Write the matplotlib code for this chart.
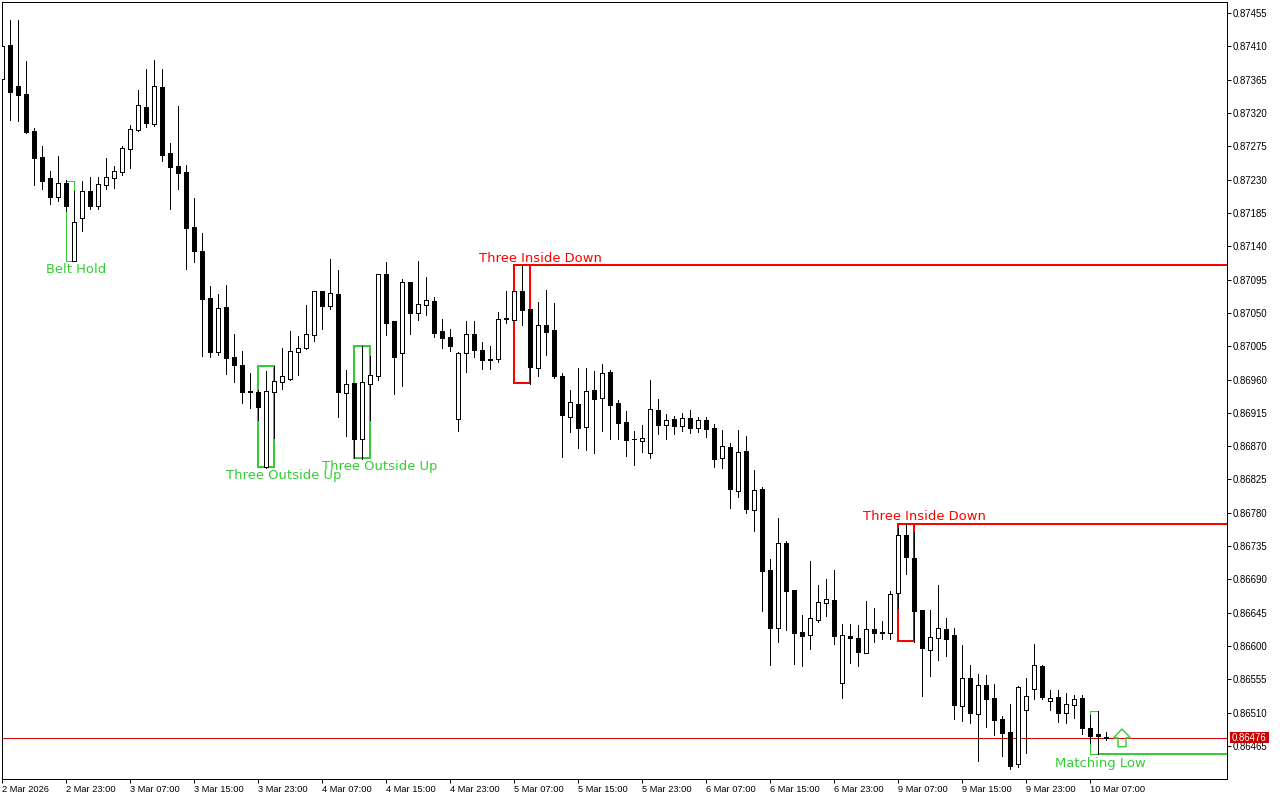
import numpy as np
import matplotlib
matplotlib.use("Agg")
import matplotlib.pyplot as plt
from matplotlib.patches import Polygon, Rectangle

# All prices below are in points (1 point = 0.00001)
opens = [87366,87412,87356,87346,87296,87261,87232,87207,87225,87120,
         87178,87215,87194,87223,87232,87240,87271,87297,87328,87305,
         87355,87266,87248,87240,87166,87134,87070,86997,87058,86990,
         86980,86944,86943,86842,86943,86957,86961,86997,87003,87020,
         87080,87059,87075,86942,86955,86880,86954,86965,87102,87039,
         86996,87092,87050,87061,87066,87026,87017,86907,86996,87021,
         87000,86988,86988,87043,87040,87080,87055,86976,87034,87027,
         86965,86909,86927,86896,86946,86935,86970,86928,86903,86880,
         86877,86861,86919,86899,86907,86897,86908,86894,86905,86894,
         86854,86869,86809,86864,86784,86812,86703,86624,86739,86676,
         86619,86615,86635,86658,86662,86550,86614,86611,86591,86623,
         86619,86618,86672,86750,86719,86649,86595,86611,86623,86615,
         86519,86557,86508,86547,86530,86501,86484,86441,86514,86542,
         86573,86526,86531,86510,86520,86530,86489,86481,86477]
highs = [87413,87446,87446,87390,87300,87275,87242,87262,87229,87215,
         87228,87234,87234,87259,87248,87275,87304,87351,87379,87392,
         87379,87279,87329,87250,87205,87158,87086,87075,87088,87021,
         86999,86969,86946,86971,86978,87003,87026,87019,87061,87080,
         87080,87123,87108,86973,86955,87005,86992,87102,87119,87039,
         87096,87092,87120,87099,87071,87042,87028,86997,87039,87039,
         87011,87005,87051,87080,87080,87115,87055,87065,87081,87063,
         86969,86946,86976,86976,86971,86981,86973,86932,86917,86891,
         86899,86959,86934,86913,86911,86915,86919,86909,86909,86900,
         86892,86874,86892,86884,86838,86815,86718,86773,86742,86676,
         86642,86715,86682,86691,86703,86630,86630,86628,86661,86651,
         86634,86674,86760,86765,86754,86649,86649,86682,86638,86624,
         86602,86574,86562,86561,86549,86506,86522,86546,86557,86603,
         86574,86541,86541,86537,86534,86534,86507,86512,86484]
lows = [87365,87311,87309,87293,87223,87217,87197,87201,87188,87120,
        87161,87190,87190,87217,87219,87236,87246,87296,87301,87302,
        87255,87190,87217,87109,87119,86992,86990,86993,86967,86957,
        86928,86922,86905,86841,86881,86947,86959,86966,87001,87012,
        87028,87055,86909,86884,86854,86853,86905,86959,87020,86941,
        86951,87021,87040,87047,87017,87003,86999,86891,86970,86990,
        86974,86974,86984,87036,87040,87034,86954,86965,86993,86962,
        86855,86889,86867,86865,86861,86891,86880,86880,86857,86845,
        86862,86854,86886,86880,86886,86891,86888,86889,86882,86842,
        86841,86786,86801,86780,86755,86647,86574,86606,86622,86576,
        86573,86596,86632,86641,86603,86530,86577,86573,86591,86606,
        86610,86610,86651,86697,86606,86533,86560,86581,86587,86501,
        86499,86496,86445,86491,86480,86452,86434,86437,86456,86528,
        86528,86514,86498,86496,86503,86481,86469,86454,86473]
closes = [87410,87348,87344,87294,87259,87228,87207,87225,87194,87173,
          87215,87194,87224,87234,87242,87273,87298,87331,87306,87356,
          87263,87247,87239,87165,87134,87069,86997,87057,86989,86980,
          86943,86943,86923,86944,86958,86965,86999,87003,87021,87080,
          87059,87077,86943,86954,86880,86957,86966,87102,87036,86990,
          87092,87050,87062,87067,87023,87016,87005,86996,87021,87000,
          86986,86987,87042,87042,87080,87054,86977,87034,87024,86965,
          86912,86930,86894,86944,86934,86969,86926,86901,86878,86879,
          86881,86920,86899,86905,86897,86908,86894,86905,86893,86853,
          86870,86812,86862,86785,86811,86701,86624,86739,86674,86618,
          86614,86638,86660,86664,86614,86615,86611,86592,86623,86618,
          86618,86670,86750,86720,86647,86597,86612,86624,86610,86520,
          86557,86510,86547,86528,86500,86483,86438,86545,86533,86574,
          86531,86530,86510,86522,86528,86489,86479,86479,86476]

y_ticks = list(range(87455, 86464, -45))
x_tick_step = 8
time_labels = ["2 Mar 2026", "2 Mar 23:00", "3 Mar 07:00", "3 Mar 15:00", "3 Mar 23:00",
               "4 Mar 07:00", "4 Mar 15:00", "4 Mar 23:00", "5 Mar 07:00", "5 Mar 15:00",
               "5 Mar 23:00", "6 Mar 07:00", "6 Mar 15:00", "6 Mar 23:00", "9 Mar 07:00",
               "9 Mar 15:00", "9 Mar 23:00", "10 Mar 07:00"]

pattern_names = ["Belt Hold", "Three Outside Up", "Three Outside Up",
                 "Three Inside Down", "Three Inside Down", "Matching Low"]
pattern_start = [8, 32, 44, 64, 112, 136]
pattern_end = [9, 34, 46, 66, 114, 137]
pattern_top = [87228, 86978, 87005, 87115, 86765, 86512]
pattern_bottom = [87120, 86842, 86854, 86955, 86607, 86454]
pattern_label_at = [87109, 86830, 86842, 87124, 86775, 86442]
pattern_label_x = [9.25, 35.27, 47.27, 67.25, 115.25, 137.25]
pattern_colors = ["#32CD32", "#32CD32", "#32CD32", "#FF0000", "#FF0000", "#32CD32"]
pattern_widths = [0.72, 1.44, 1.44, 1.44, 1.44, 0.72]

last_price = 86476
arrow_index = 140
arrow_top, arrow_base, arrow_bottom = 86488, 86476, 86464

P = 1e-5
W, H = 1280, 800
fig = plt.figure(figsize=(W / 100, H / 100), dpi=100, facecolor="white")
ax = fig.add_axes([2 / W, 21 / H, 1225 / W, 777 / H])
ax.set_facecolor("white")
plt.rcParams["font.family"] = "DejaVu Sans"

o, h, l, c = (np.array(a) * P for a in (opens, highs, lows, closes))
x = np.arange(len(o))
up = c >= o

ax.axhline(last_price * P, color="#E00000", lw=0.72, zorder=1, snap=True)

for name, s, e, t, b, ly, lx, col, lw in zip(pattern_names, pattern_start, pattern_end,
                                             pattern_top, pattern_bottom, pattern_label_at,
                                             pattern_label_x, pattern_colors, pattern_widths):
    ax.add_patch(Rectangle((s, b * P), e - s, (t - b) * P, fill=False, ec=col, lw=lw,
                           zorder=2, antialiased=False))
    ax.text(lx, ly * P, name, color=col, fontsize=9.45, ha="center", va="center",
            family="DejaVu Sans", zorder=6)
    if name == "Three Inside Down":
        ax.plot([e, len(o) + 30], [t * P, t * P], color=col, lw=1.44, zorder=2,
                antialiased=False, solid_capstyle="butt")
    if name == "Matching Low":
        ax.plot([e, len(o) + 30], [b * P, b * P], color=col, lw=1.44, zorder=2,
                antialiased=False, solid_capstyle="butt")

ax.vlines(x, l, h, color="black", lw=0.72, zorder=3, antialiased=False)
ax.bar(x, np.abs(c - o), bottom=np.minimum(o, c), width=0.5,
       color=np.where(up, "white", "black").tolist(), edgecolor="black", linewidth=0.72,
       zorder=4, antialiased=False)

ax.add_patch(Polygon(
    [(arrow_index, arrow_top * P), (arrow_index + 1.05, arrow_base * P),
     (arrow_index + 0.5, arrow_base * P), (arrow_index + 0.5, arrow_bottom * P),
     (arrow_index - 0.5, arrow_bottom * P), (arrow_index - 0.5, arrow_base * P),
     (arrow_index - 1.05, arrow_base * P)],
    closed=True, fill=False, ec="#32CD32", lw=1.0, zorder=5))

ax.set_xlim(0, 1225 / 8)
ax.set_ylim((87455 - 1.3506 * 766) * P, (87455 + 1.3506 * 11) * P)

ax.yaxis.tick_right()
ax.set_yticks(np.array(y_ticks) * P)
ax.set_yticklabels([f"{v * P:.5f}" for v in y_ticks], family="Liberation Sans", fontsize=6.9)
ax.set_xticks(np.arange(len(time_labels)) * x_tick_step)
ax.set_xticklabels(time_labels, family="Liberation Sans", fontsize=6.7, ha="left")
ax.tick_params(axis="y", length=3, width=0.72, pad=1.0, color="black")
ax.tick_params(axis="x", length=3, width=0.72, pad=1.5, color="black")
for s in ax.spines.values():
    s.set_linewidth(0.72)
    s.set_color("black")

trans = ax.get_yaxis_transform()
ax.add_patch(Rectangle((1 + 3 / 1225, (last_price - 7.4) * P), 39 / 1225, 14.9 * P, transform=trans,
                       fc="#CC0000", ec="none", clip_on=False, zorder=6.5))
ax.text(1 + 5 / 1225, last_price * P, f"{last_price * P:.5f}", transform=trans,
        color="white", fontsize=6.9, family="Liberation Sans", ha="left", va="center", zorder=7,
        clip_on=False)

fig.savefig("out.png", dpi=100, facecolor="white")
